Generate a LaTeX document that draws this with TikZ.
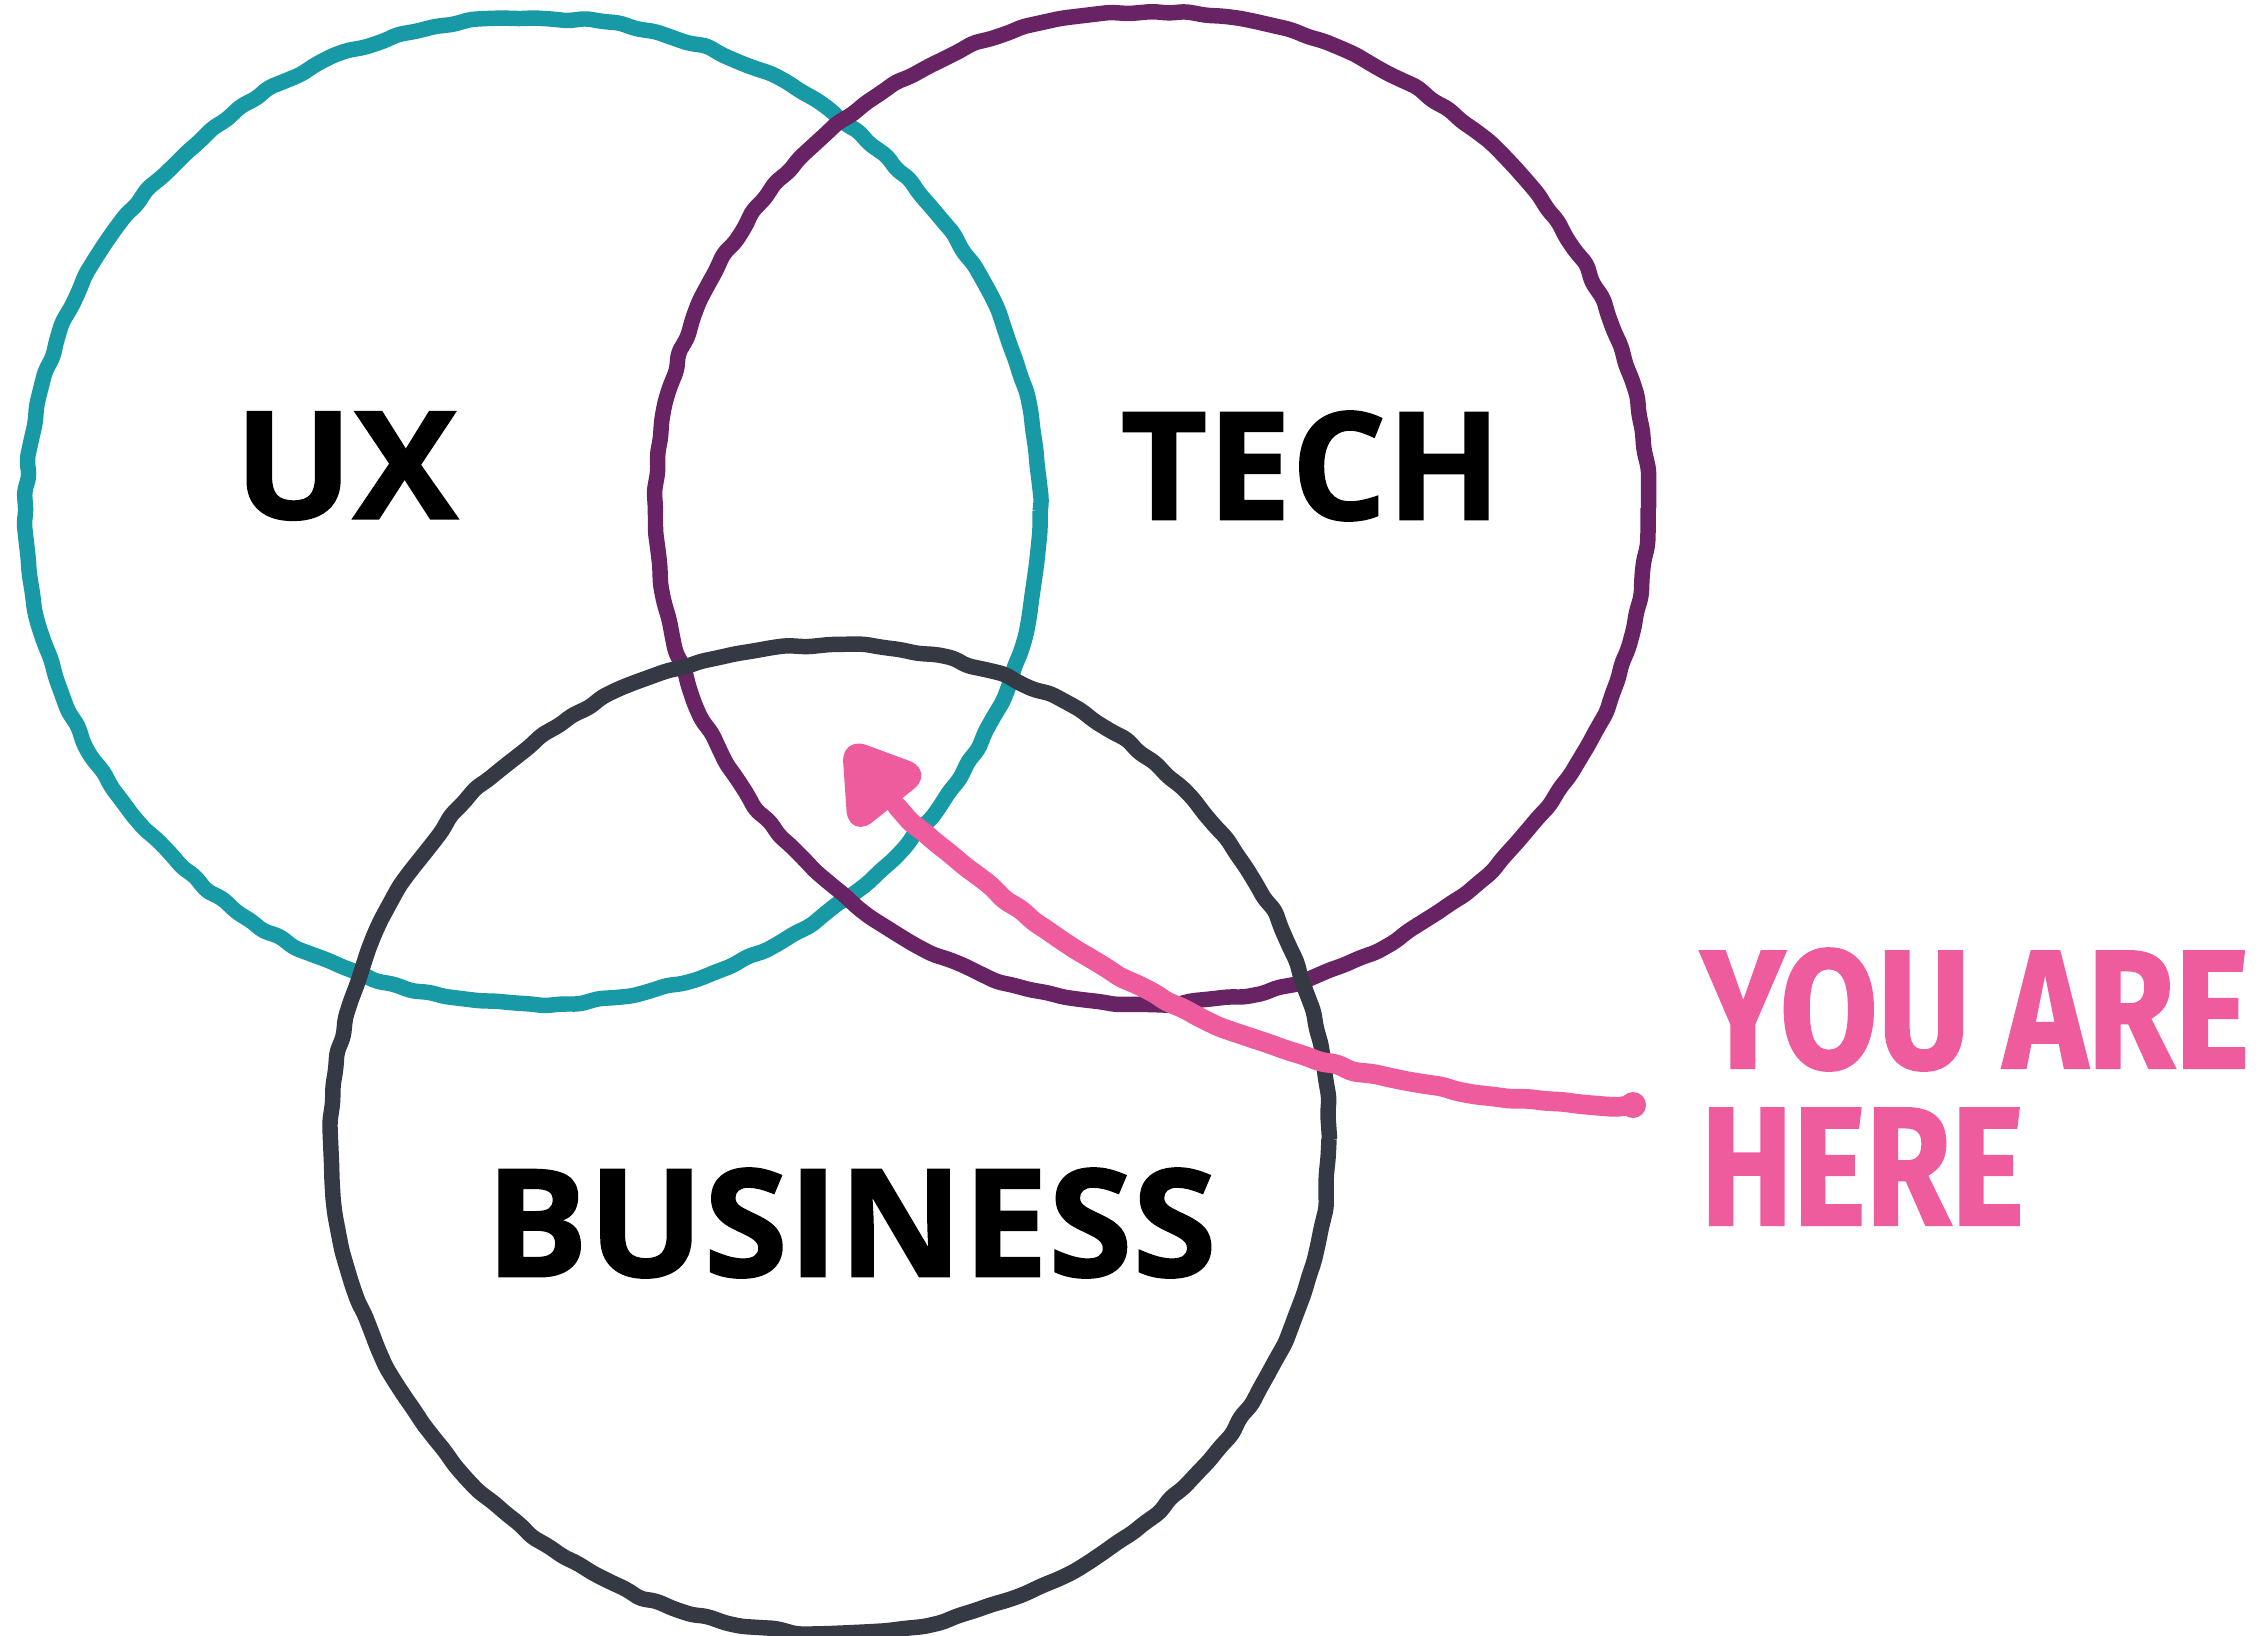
\documentclass[tikz,border=0pt]{standalone}
\usepackage{fontspec}
\setmainfont{Open Sans}[BoldFeatures={FakeBold=1.2}]
\newfontfamily\handfont{Fira Sans}[BoldFeatures={FakeBold=1.2}]
\usetikzlibrary{decorations.pathmorphing}
\definecolor{uxc}{RGB}{23,153,166}
\definecolor{techc}{RGB}{104,35,100}
\definecolor{busc}{RGB}{52,57,68}
\definecolor{pinkc}{RGB}{238,92,158}
\begin{document}
\begin{tikzpicture}[x=0.01cm,y=-0.01cm,
  ring/.style={line width=4.4pt, line join=round, decorate, rounded corners=1.5pt,
    decoration={random steps, segment length=5pt, amplitude=0.6pt}},
  biglabel/.style={font=\fontsize{42.6}{50}\selectfont\bfseries, text=black, inner sep=0pt},
  handlabel/.style={font=\handfont\fontsize{48}{56}\selectfont\bfseries, text=pinkc, inner sep=0pt, anchor=base west},
  arrowline/.style={pinkc, line width=5.6pt, line cap=round, line join=round, decorate, rounded corners=1.5pt,
    decoration={random steps, segment length=5pt, amplitude=0.6pt}}]
\useasboundingbox (0,0) rectangle (2260,1635);
\pgfmathsetseed{11}
\draw[ring, uxc] (533,511) ellipse [x radius=507, y radius=493];
\draw[ring, techc] (1152,508) ellipse [x radius=496, y radius=496];
\draw[ring, busc] (830,1139) ellipse [x radius=499, y radius=494];

\node[biglabel] (ux) at (346,466) {\scalebox{1.05}[1]{UX}};
\node[biglabel] (tech) at (1311,466) {TECH};
\node[biglabel] (business) at (851,1223) {\scalebox{1.02}[1]{BUSINESS}};

\coordinate (tail) at (1633,1105);
\coordinate (mid) at (1205,1020);
\coordinate (hb) at (897,806);
\coordinate (tip) at (852,750);
\draw[arrowline] (tail) .. controls (1480,1106) and (1300,1064) .. (mid)
  .. controls (1112,978) and (985,893) .. (hb);
\filldraw[pinkc, line width=5.5pt, line join=round, rounded corners=3pt] (tip) -- (917,774) -- (857,822) -- cycle;
\fill[pinkc] (tail) circle [radius=13];

\node[handlabel] (youare) at (1700,1068) {\scalebox{0.84}[1]{YOU ARE}};
\node[handlabel] (here) at (1700,1225) {\scalebox{0.82}[1]{HERE}};
\end{tikzpicture}
\end{document}
